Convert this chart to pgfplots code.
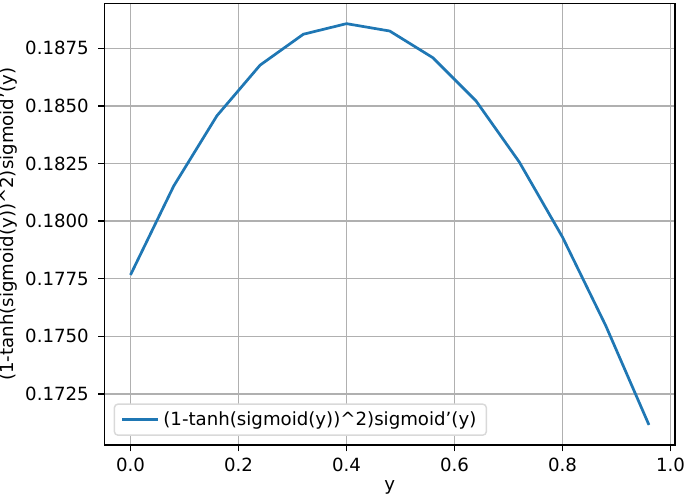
\documentclass[border=0pt]{standalone}
\usepackage{fontspec}
\setmainfont{DejaVu Sans}
\usepackage{pgfplots}
\pgfplotsset{compat=1.18}
\definecolor{mplblue}{HTML}{1F77B4}
\definecolor{gridgrey}{HTML}{B0B0B0}
\definecolor{legframe}{HTML}{D9D9D9}

\begin{document}
\begin{tikzpicture}
\begin{axis}[
  scale only axis,
  width=314pt, height=243pt,
  xmin=-0.048, xmax=1.008,
  ymin=0.17028, ymax=0.18944,
  xtick={0,0.2,0.4,0.6,0.8,1.0},
  ytick={0.1725,0.1750,0.1775,0.1800,0.1825,0.1850,0.1875},
  scaled y ticks=false,
  xticklabel style={inner xsep=0pt,
    /pgf/number format/.cd, fixed, fixed zerofill, precision=1},
  yticklabel style={inner xsep=0pt, xshift=-5pt,
    /pgf/number format/.cd, fixed, fixed zerofill, precision=4},
  /pgf/number format/assume math mode=true,
  tick align=outside, tick pos=left,
  major tick length=3.5pt,
  tick style={black, line width=0.8pt},
  axis line style={line width=0.8pt},
  grid=major, grid style={gridgrey, line width=0.8pt},
  font=\fontsize{10pt}{12pt}\selectfont,
  tick label style={font=\fontsize{10pt}{12pt}\selectfont},
  label style={font=\fontsize{10pt}{12pt}\selectfont},
  xlabel={y},
  ylabel={(1-tanh(sigmoid(y))\textasciicircum2)sigmoid’(y)},
  xlabel style={yshift=2pt},
  ylabel style={inner ysep=0pt, yshift=4pt},
  legend style={at={(0,0)}, anchor=south west, xshift=5pt, yshift=5pt,
    draw=legframe, line width=0.8pt, rounded corners=2pt,
    inner xsep=3.5pt, inner ysep=2pt,
    font=\fontsize{10pt}{12pt}\selectfont},
  legend cell align=left,
  legend image code/.code={\draw[#1, line width=1.5pt] (0pt,0pt) -- (20pt,0pt);},
  extra description/.code={\path (rel axis cs:0,1) ++(0,2pt);},
]
\addplot[mplblue, line width=1.5pt, mark=none] coordinates {
  (0.00,0.17766) (0.08,0.18152) (0.16,0.18457) (0.24,0.18677)
  (0.32,0.18811) (0.40,0.18857) (0.48,0.18825) (0.56,0.18709)
  (0.64,0.18521) (0.72,0.18256) (0.80,0.17930) (0.88,0.17546)
  (0.96,0.17115)
};
\addlegendentry{(1-tanh(sigmoid(y))\textasciicircum2)sigmoid’(y)}
\end{axis}
\end{tikzpicture}
\end{document}
